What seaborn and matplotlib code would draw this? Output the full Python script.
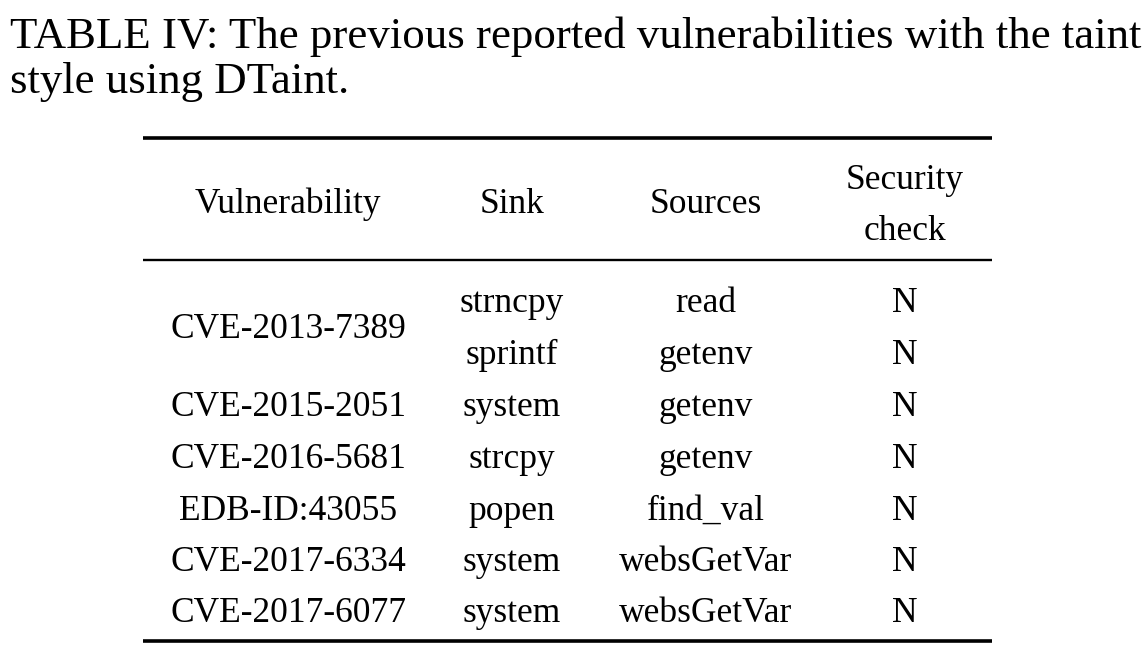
import pandas as pd
import matplotlib.pyplot as plt
import seaborn as sns

# Table content
caption = ["TABLE IV: The previous reported vulnerabilities with the taint",
           "style using DTaint."]
columns = ["Vulnerability", "Sink", "Sources", "Security\ncheck"]
vulnerabilities = ["CVE-2013-7389", "CVE-2013-7389", "CVE-2015-2051", "CVE-2016-5681",
                   "EDB-ID:43055", "CVE-2017-6334", "CVE-2017-6077"]
sinks = ["strncpy", "sprintf", "system", "strcpy", "popen", "system", "system"]
sources = ["read", "getenv", "getenv", "getenv", "find_val", "websGetVar", "websGetVar"]
checks = ["N", "N", "N", "N", "N", "N", "N"]

df = pd.DataFrame({"Vulnerability": vulnerabilities, "Sink": sinks,
                   "Sources": sources, "Security check": checks})

sns.set_theme(style="white")
plt.rcParams['font.family'] = ['Liberation Serif', 'DejaVu Serif']

fig = plt.figure(figsize=(11.42, 6.59), dpi=100)
ax = fig.add_axes([0, 0, 1, 1])
ax.set_xlim(0, 1142)
ax.set_ylim(659, 0)
ax.axis("off")

# caption
ax.text(10, 48, caption[0], fontsize=32.3, ha="left", va="baseline", color="black")
ax.text(10, 93, caption[1], fontsize=32.3, ha="left", va="baseline", color="black")

# layout
col_x = [288, 512, 706, 905]
row_base = [312, 364, 416, 468, 520, 571, 622]
fs = 25.5

# rules
ax.plot([143, 992], [138, 138], color="black", lw=2.6, solid_capstyle="butt")
ax.plot([143, 992], [260, 260], color="black", lw=1.7, solid_capstyle="butt")
ax.plot([143, 992], [641, 641], color="black", lw=2.6, solid_capstyle="butt")

# header
for x, name in zip(col_x, columns):
    if "\n" in name:
        top, bottom = name.split("\n")
        ax.text(x, 189, top, fontsize=fs, ha="center", va="baseline", color="black")
        ax.text(x, 240, bottom, fontsize=fs, ha="center", va="baseline", color="black")
    else:
        ax.text(x, 213, name, fontsize=fs, ha="center", va="baseline", color="black")

# body: first vulnerability spans two rows (multirow)
shown = set()
for i, row in df.iterrows():
    v = row["Vulnerability"]
    if v not in shown:
        n = (df["Vulnerability"] == v).sum()
        yv = sum(row_base[i:i + n]) / n
        ax.text(col_x[0], yv, v, fontsize=fs, ha="center", va="baseline", color="black")
        shown.add(v)
    ax.text(col_x[1], row_base[i], row["Sink"], fontsize=fs, ha="center", va="baseline", color="black")
    ax.text(col_x[2], row_base[i], row["Sources"], fontsize=fs, ha="center", va="baseline", color="black")
    ax.text(col_x[3], row_base[i], row["Security check"], fontsize=fs, ha="center", va="baseline", color="black")

fig.savefig("out.png", dpi=100, facecolor="white")
